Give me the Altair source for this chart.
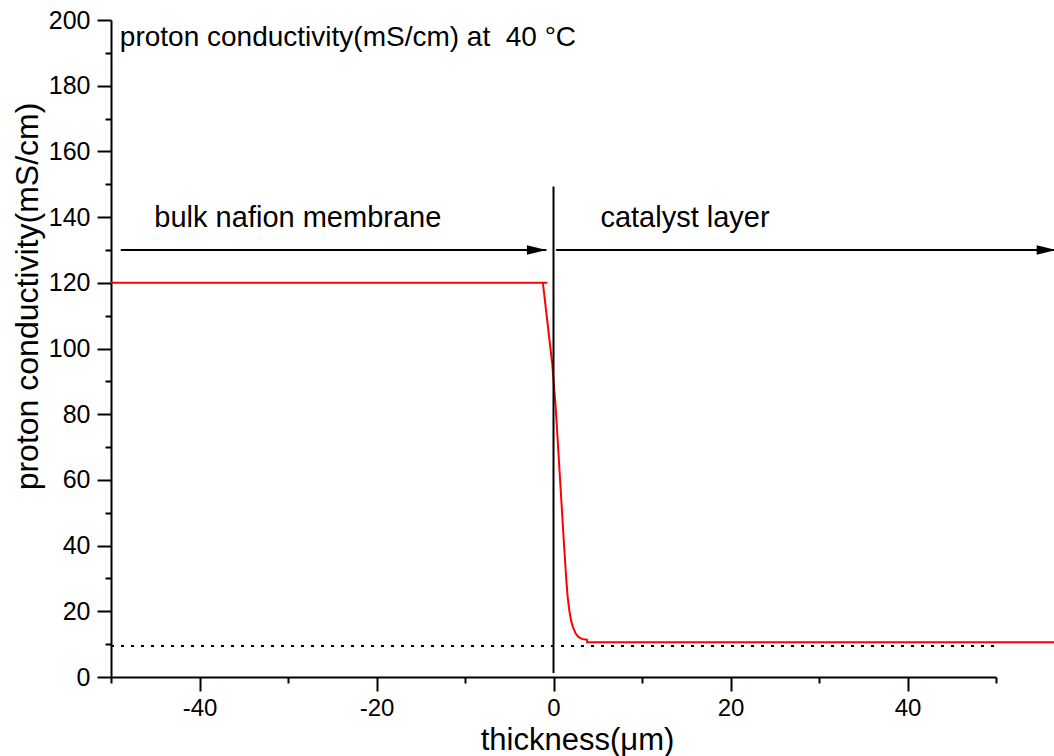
import altair as alt
import pandas as pd

# ---- data ----
curve_x = [-50, -0.7, -1.2, -0.15, 0.25, 0.7, 1.15, 1.3, 1.45, 1.6, 1.8, 2.0, 2.2, 2.5, 2.8, 3.2, 3.8, 3.8, 56.8]
curve_y = [120, 120, 120, 95.5, 82, 62, 42, 35.6, 29.5, 24.4, 20.0, 17.0, 15.2, 13.3, 12.2, 11.6, 11.3, 10.6, 10.6]

dotted_x = [-50, 50]
dotted_y = [9.4, 9.4]

interface_x = [0]
interface_y_lo = [1.2]
interface_y_hi = [149.3]

arrow_start = [-48.9, 0.3]
arrow_end = [-0.8, 56.8]
arrow_y = [130, 130]

label_text = ["bulk nafion membrane", "catalyst layer"]
label_x = [-45.1, 5.3]
label_y = [137, 137]

title_text = ["proton conductivity(mS/cm) at \u00a040 °C"]
title_x = [-49]
title_y = [192]

x_major = [-40, -20, 0, 20, 40]
x_minor = [-50, -30, -10, 10, 30, 50]
y_major = list(range(0, 201, 20))
y_minor = list(range(10, 200, 20))

FONT = "Liberation Sans"

curve_df = pd.DataFrame({"x": curve_x, "y": curve_y, "i": list(range(len(curve_x)))})
dotted_df = pd.DataFrame({"x": dotted_x, "y": dotted_y})
iface_df = pd.DataFrame({"x": interface_x, "y": interface_y_lo, "y2": interface_y_hi})
arrow_df = pd.DataFrame({"x": arrow_start, "x2": arrow_end, "y": arrow_y})
label_df = pd.DataFrame({"x": label_x, "y": label_y, "t": label_text})
title_df = pd.DataFrame({"x": title_x, "y": title_y, "t": title_text})

xs = alt.Scale(domain=[-50, 50], nice=False, zero=False)
ys = alt.Scale(domain=[0, 200], nice=False, zero=False)


def X(field, axis=None):
    return alt.X(field, type="quantitative", scale=xs, axis=axis)


def Y(field, axis=None):
    return alt.Y(field, type="quantitative", scale=ys, axis=axis)


x_major_axis = alt.Axis(
    orient="bottom", values=x_major, tickSize=14, tickWidth=2, tickColor="black",
    domainWidth=2, domainColor="black", labelFontSize=24, labelFont=FONT,
    labelColor="black", labelPadding=5, grid=False, labelExpr="datum.value + ''",
    title="thickness(μm)", titleFont=FONT, titleFontSize=31, titleFontWeight="normal",
    titleColor="black", titleBaseline="alphabetic", titleAlign="center",
    titleX=466, titleY=72,
)
y_major_axis = alt.Axis(
    orient="left", values=y_major, tickSize=14, tickWidth=2, tickColor="black",
    domainWidth=2, domainColor="black", labelFontSize=25, labelFont=FONT,
    labelColor="black", labelPadding=7, grid=False, labelExpr="datum.value + ''",
    title="proton conductivity(mS/cm)", titleFont=FONT, titleFontSize=32,
    titleFontWeight="normal", titleColor="black", titleBaseline="alphabetic",
    titleAlign="center", titleAngle=270, titleX=-74, titleY=276,
)
x_minor_axis = alt.Axis(
    orient="bottom", values=x_minor, tickSize=6, tickWidth=2, tickColor="black",
    domain=False, labels=False, grid=False, title=None,
)
y_minor_axis = alt.Axis(
    orient="left", values=y_minor, tickSize=6, tickWidth=2, tickColor="black",
    domain=False, labels=False, grid=False, title=None,
)

curve = alt.Chart(curve_df).mark_line(color="#ff0000", strokeWidth=2, clip=False).encode(
    x=X("x", x_major_axis), y=Y("y", y_major_axis), order="i:Q"
)
minor = alt.Chart(dotted_df).mark_line(
    color="black", strokeWidth=2, strokeDash=[3, 7], clip=False
).encode(x=X("x", x_minor_axis), y=Y("y", y_minor_axis))

iface = alt.Chart(iface_df).mark_rule(color="black", strokeWidth=2, clip=False).encode(
    x=X("x"), y=Y("y"), y2="y2"
)
arrows = alt.Chart(arrow_df).mark_rule(color="black", strokeWidth=2, clip=False).encode(
    x=X("x"), x2="x2", y=Y("y")
)
heads = alt.Chart(arrow_df).mark_point(
    shape="M-2,-0.48 L0,0 L-2,0.48 Z", size=380, filled=True, color="black",
    opacity=1, strokeWidth=0, clip=False
).encode(x=X("x2"), y=Y("y"))
labels = alt.Chart(label_df).mark_text(
    align="left", baseline="alphabetic", fontSize=29, font=FONT, color="black", clip=False
).encode(x=X("x"), y=Y("y"), text="t")
title = alt.Chart(title_df).mark_text(
    align="left", baseline="alphabetic", fontSize=28, font=FONT, color="black", clip=False
).encode(x=X("x"), y=Y("y"), text="t")

chart = alt.layer(curve, minor, iface, arrows, heads, labels, title).resolve_axis(
    x="independent", y="independent"
).properties(
    width=885, height=657,
    autosize=alt.AutoSizeParams(type="none"),
    padding={"left": 111, "top": 20, "right": 58, "bottom": 79},
    background="white",
).configure_view(stroke=None)

chart.save("out.html", embed_options={"renderer": "svg", "actions": False})
